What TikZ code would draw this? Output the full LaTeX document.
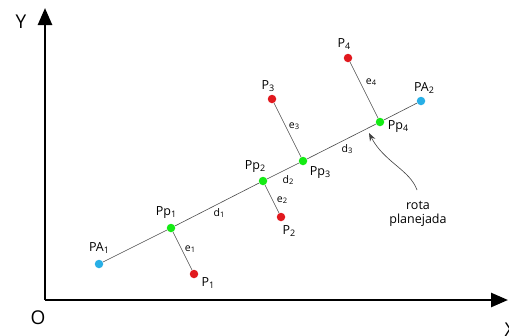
\documentclass[tikz,border=0pt]{standalone}
\usepackage{fontspec}
\setmainfont{Open Sans}
\usetikzlibrary{arrows.meta}
\definecolor{ptred}{RGB}{225,25,30}
\definecolor{ptgreen}{RGB}{20,235,20}
\definecolor{ptblue}{RGB}{40,175,230}
\newcommand{\sbs}[1]{\raisebox{-0.25ex}{\scalebox{0.72}{#1}}}
\tikzset{
  axis/.style={line width=2.6pt,-{Triangle[length=17pt,width=14pt]}},
  link/.style={draw=black!70,line width=0.6pt},
  dot/.style={circle,inner sep=0pt,minimum size=8.5pt},
  reddot/.style={dot,fill=ptred},
  greendot/.style={dot,fill=ptgreen},
  bluedot/.style={dot,fill=ptblue},
  lbl/.style={font=\fontsize{12.5}{14}\selectfont,inner sep=0pt},
  sml/.style={font=\fontsize{10.5}{12}\selectfont,inner sep=0pt},
  axlbl/.style={font=\fontsize{19}{21}\selectfont,inner sep=0pt},
}
\begin{document}
\begin{tikzpicture}[x=1pt,y=-1pt]
\useasboundingbox (0,0) rectangle (509,335);
\coordinate (O) at (45,300);
\coordinate (Yend) at (45,8);
\coordinate (Xend) at (508,300);
\draw[axis] (O) -- (Yend);
\draw[axis] (O) -- (Xend);
\node[axlbl] (Ylab) at (21,22) {Y};
\node[axlbl] (Olab) at (38,318) {O};
\node[axlbl] (Xlab) at (510,330) {X};

\node[bluedot] (PA1) at (99,264) {};
\node[bluedot] (PA2) at (421,101) {};
\node[greendot] (Pp1) at (171,228) {};
\node[greendot] (Pp2) at (263,181) {};
\node[greendot] (Pp3) at (303,161) {};
\node[greendot] (Pp4) at (380,122) {};
\node[reddot] (P1) at (194,274) {};
\node[reddot] (P2) at (281,217) {};
\node[reddot] (P3) at (272,99) {};
\node[reddot] (P4) at (348,58) {};

\draw[link] (PA1) -- (Pp1) -- (Pp2) -- (Pp3) -- (Pp4) -- (PA2);
\draw[link] (Pp1) -- (P1);
\draw[link] (Pp2) -- (P2);
\draw[link] (Pp3) -- (P3);
\draw[link] (Pp4) -- (P4);

\node[lbl] (tPA1) at (99,248) {PA\sbs{1}};
\node[lbl] (tPA2) at (424,88) {PA\sbs{2}};
\node[lbl] (tPp1) at (166,213) {Pp\sbs{1}};
\node[lbl] (tPp2) at (255,167) {Pp\sbs{2}};
\node[lbl] (tPp3) at (320,173) {Pp\sbs{3}};
\node[lbl] (tPp4) at (398,127) {Pp\sbs{4}};
\node[lbl] (tP1) at (208,283) {P\sbs{1}};
\node[lbl] (tP2) at (289,231) {P\sbs{2}};
\node[lbl] (tP3) at (268,86) {P\sbs{3}};
\node[lbl] (tP4) at (344,44) {P\sbs{4}};
\node[sml] (te1) at (190,249) {e\sbs{1}};
\node[sml] (te2) at (282,200) {e\sbs{2}};
\node[sml] (te3) at (294,126) {e\sbs{3}};
\node[sml] (te4) at (371,82) {e\sbs{4}};
\node[sml] (td1) at (219,213) {d\sbs{1}};
\node[sml] (td2) at (288,180) {d\sbs{2}};
\node[sml] (td3) at (347,149) {d\sbs{3}};

\node[lbl,align=center] (rota) at (418,214) {rota\\planejada};
\coordinate (cstart) at (417,190);
\coordinate (ctip) at (369,133);
\draw[draw=black!75,line width=0.6pt,-{Stealth[length=8pt,width=6pt]}] (cstart) .. controls (410,170) and (384,162) .. (ctip);
\end{tikzpicture}
\end{document}
